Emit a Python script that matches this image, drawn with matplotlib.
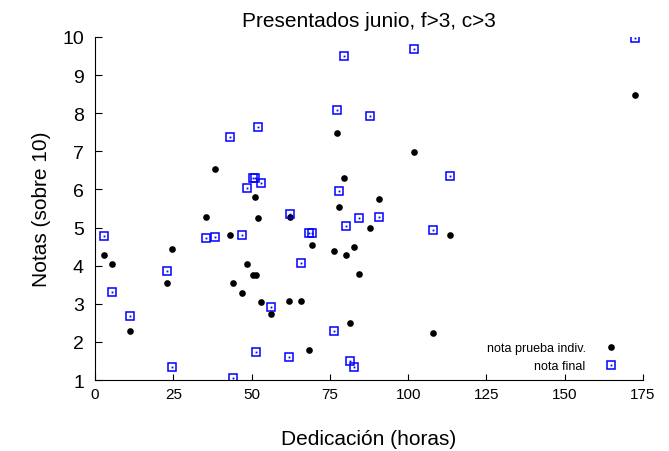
import matplotlib
matplotlib.use('Agg')
import matplotlib.pyplot as plt

plt.rcParams['font.family'] = ['Liberation Sans', 'DejaVu Sans']

# horas de dedicacion de cada alumno
dedicacion = [3.0, 5.3, 11.1, 23.1, 24.5, 35.6, 38.2, 43.0, 44.1, 46.9,
              48.4, 50.3, 51.2, 51.4, 52.2, 53.0, 56.1, 61.9, 62.2, 65.9,
              68.3, 69.4, 76.3, 77.2, 77.8, 79.5, 80.0, 81.4, 82.7, 84.2,
              87.9, 90.7, 101.8, 107.8, 113.3, 172.4]
# nota de la prueba individual
nota_prueba = [4.29, 4.04, 2.29, 3.54, 4.44, 5.29, 6.54, 4.80, 3.54, 3.29,
               4.04, 3.75, 5.79, 3.75, 5.24, 3.04, 2.74, 3.08, 5.29, 3.08,
               1.79, 4.54, 4.39, 7.49, 5.55, 6.29, 4.29, 2.49, 4.49, 3.79,
               4.99, 5.74, 6.99, 2.24, 4.80, 8.49]
# nota final
nota_final = [4.78, 3.31, 2.69, 3.86, 1.33, 4.72, 4.76, 7.38, 1.05, 4.80,
              6.05, 6.29, 6.29, 1.74, 7.65, 6.16, 2.92, 1.60, 5.35, 4.06,
              4.86, 4.86, 2.28, 8.09, 5.95, 9.50, 5.04, 1.49, 1.34, 5.25,
              7.94, 5.29, 9.69, 4.94, 6.35, 9.98]

x_ticks = [0, 25, 50, 75, 100, 125, 150, 175]
y_ticks = [1, 2, 3, 4, 5, 6, 7, 8, 9, 10]

fig = plt.figure(figsize=(6.69, 4.52), dpi=100)
ax = fig.add_axes([95 / 669, 1 - 381 / 452, 548 / 669, 343 / 452])

p1, = ax.plot(dedicacion, nota_prueba, linestyle='none', marker='o',
              markersize=4.8, color='black', markeredgewidth=0)
p2, = ax.plot(dedicacion, nota_final, linestyle='none', marker='s',
              markersize=5.8, markerfacecolor='none', markeredgecolor='#0000ff',
              markeredgewidth=1.1)
p3, = ax.plot(dedicacion, nota_final, linestyle='none', marker='s',
              markersize=1.3, color='#0000ff', markeredgewidth=0)

ax.set_xlim(0, 175)
ax.set_ylim(1, 10)
ax.set_xticks(x_ticks)
ax.set_yticks(y_ticks)
ax.spines['top'].set_visible(False)
ax.spines['right'].set_visible(False)
ax.tick_params(axis='x', direction='in', length=4, labelsize=11, pad=5)
ax.tick_params(axis='y', direction='in', length=5, labelsize=14, pad=8)

ax.set_title('Presentados junio, f>3, c>3', fontsize=15, pad=8)
ax.set_xlabel('Dedicación (horas)', fontsize=15, labelpad=20)
ax.set_ylabel('Notas (sobre 10)', fontsize=15, labelpad=8)

ax.legend([p1, (p2, p3)], ['nota prueba indiv.', 'nota final'],
          loc='lower right', bbox_to_anchor=(0.973, -0.01), frameon=False,
          markerfirst=False, fontsize=9, handlelength=1.0,
          labelspacing=0.5, handletextpad=1.5)

plt.savefig('out.png', dpi=100)
plt.close()
